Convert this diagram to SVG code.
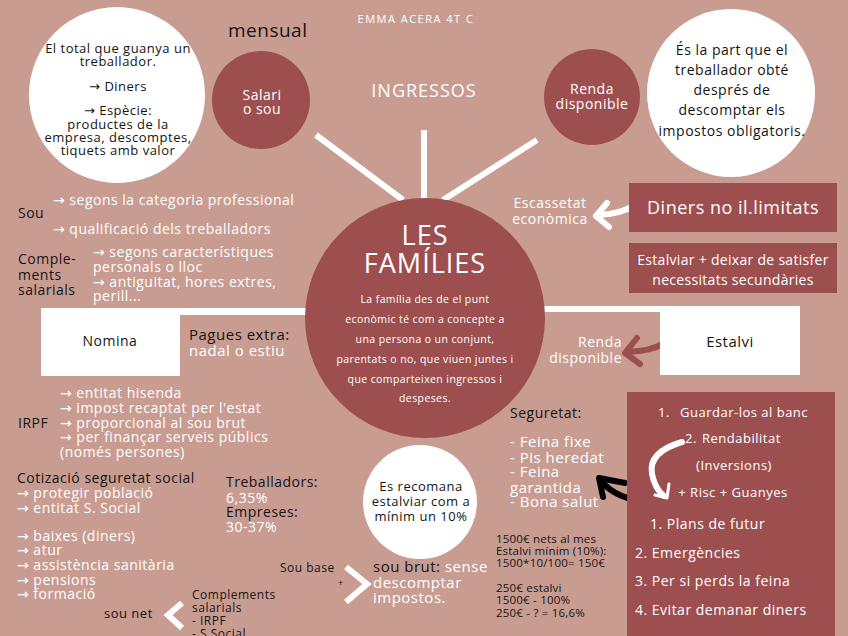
<svg xmlns="http://www.w3.org/2000/svg" width="848" height="636" viewBox="0 0 848 636">
<defs>
<style>
text{font-family:'Open Sans','DejaVu Sans',sans-serif;font-weight:500;letter-spacing:0.5px}
.k{fill:#141414}
.w{fill:#ffffff}
.c{text-anchor:middle}
.e{text-anchor:end}
.dk{fill:#9d4f50}
.wl{stroke:#fff;stroke-width:6;fill:none}
.f13{font-size:13px}
.f14{font-size:14px}
.f12{font-size:12px}
.f15{font-size:15px}
</style>
</defs>
<rect width="848" height="636" fill="#c99c91"/>

<g id="connectors">
<line class="wl" x1="316" y1="135" x2="403" y2="200"/>
<line class="wl" x1="424" y1="130" x2="424" y2="200"/>
<line class="wl" x1="537" y1="140" x2="443" y2="200"/>
<rect x="41" y="308" width="275" height="7" fill="#fff"/>
<rect x="535" y="306" width="265" height="6" fill="#fff"/>
<path d="M646,186 Q642,212 600,215" stroke="#fff" stroke-width="6" fill="none" stroke-linecap="round"/>
<path d="M607,203 L596,216 L609,227" stroke="#fff" stroke-width="6" fill="none" stroke-linecap="round" stroke-linejoin="round"/>
<path d="M678,322 Q674,350 628,352" stroke="#9d4f50" stroke-width="6" fill="none" stroke-linecap="round"/>
<path d="M637,338 L625,353 L640,364" stroke="#9d4f50" stroke-width="6" fill="none" stroke-linecap="round" stroke-linejoin="round"/>
<path d="M655,500 Q620,503 601,481" stroke="#000" stroke-width="6" fill="none" stroke-linecap="round"/>
<path d="M625,483 L599,478 L603,497" stroke="#000" stroke-width="6" fill="none" stroke-linecap="round" stroke-linejoin="round"/>
<path d="M346,567 L367,584 L346,602" class="wl"/>
<path d="M182,603 L168,615 L182,628" class="wl"/>
</g>

<g id="salari-def">
<circle cx="117" cy="95" r="88" fill="#fff"/>
<text class="k c f13"><tspan x="118" y="53">El total que guanya un</tspan><tspan x="118" y="66">treballador.</tspan><tspan x="118" y="91">→ Diners</tspan><tspan x="118" y="115">→ Espècie:</tspan><tspan x="118" y="129">productes de la</tspan><tspan x="118" y="142">empresa, descomptes,</tspan><tspan x="118" y="155">tiquets amb valor</tspan></text>
</g>

<g id="salari">
<circle cx="261" cy="100" r="49" class="dk"/>
<text class="w c f14"><tspan x="262" y="100">Salari</tspan><tspan x="262" y="114">o sou</tspan></text>
</g>
<text class="k" x="228" y="37" font-size="19">mensual</text>
<text class="w c" x="416" y="23" font-size="11" style="letter-spacing:1.5px">EMMA ACERA 4T C</text>
<text class="w c" x="424" y="97" font-size="18" style="letter-spacing:1px">INGRESSOS</text>

<g id="renda">
<circle cx="592" cy="97" r="48" class="dk"/>
<text class="w c f14"><tspan x="592" y="94">Renda</tspan><tspan x="592" y="109">disponible</tspan></text>
</g>

<g id="renda-def">
<circle cx="731" cy="93" r="84" fill="#fff"/>
<text class="k c f14"><tspan x="732" y="55">És la part que el</tspan><tspan x="732" y="75">treballador obté</tspan><tspan x="732" y="95">després de</tspan><tspan x="732" y="115">descomptar els</tspan><tspan x="732" y="136">impostos obligatoris.</tspan></text>
</g>

<g id="families">
<circle cx="425" cy="318" r="120" class="dk"/>
<text class="w c" font-size="27" style="letter-spacing:1px"><tspan x="425" y="245">LES</tspan><tspan x="425" y="273">FAMÍLIES</tspan></text>
<text class="w c" font-size="10.5" style="letter-spacing:0.4px"><tspan x="425" y="303">La família des de el punt</tspan><tspan x="425" y="323">econòmic té com a concepte a</tspan><tspan x="425" y="343">una persona o un conjunt,</tspan><tspan x="425" y="363">parentats o no, que viuen juntes i</tspan><tspan x="425" y="383">que comparteixen ingressos i</tspan><tspan x="425" y="402">despeses.</tspan></text>
</g>

<g id="sou">
<text class="k f14" x="18" y="218">Sou</text>
<text class="w f14"><tspan x="53" y="205">→ segons la categoria professional</tspan><tspan x="53" y="234">→ qualificació dels treballadors</tspan></text>
<text class="k f14"><tspan x="18" y="264">Comple-</tspan><tspan x="18" y="280">ments</tspan><tspan x="18" y="295">salarials</tspan></text>
<text class="w f14"><tspan x="93" y="257">→ segons característiques</tspan><tspan x="93" y="272">personals o lloc</tspan><tspan x="93" y="287">→ antiguitat, hores extres,</tspan><tspan x="93" y="301">perill...</tspan></text>
</g>

<g id="nomina">
<rect x="41" y="308" width="139" height="68" fill="#fff"/>
<text class="k c f14" x="110" y="346">Nomina</text>
<text class="k f15" x="189" y="340" font-weight="600">Pagues extra:</text>
<text class="w f15" x="189" y="356">nadal o estiu</text>
</g>

<g id="irpf">
<text class="k f14" x="18" y="428">IRPF</text>
<text class="w f14"><tspan x="60" y="398">→ entitat hisenda</tspan><tspan x="60" y="413">→ impost recaptat per l'estat</tspan><tspan x="60" y="428">→ proporcional al sou brut</tspan><tspan x="60" y="442">→ per finançar serveis públics</tspan><tspan x="60" y="457">(només persones)</tspan></text>
</g>

<g id="cotitzacio">
<text class="k f14" x="17" y="483">Cotizació seguretat social</text>
<text class="w f14"><tspan x="17" y="498">→ protegir població</tspan><tspan x="17" y="513">→ entitat S. Social</tspan><tspan x="17" y="541">→ baixes (diners)</tspan><tspan x="17" y="555">→ atur</tspan><tspan x="17" y="570">→ assistència sanitària</tspan><tspan x="17" y="585">→ pensions</tspan><tspan x="17" y="599">→ formació</tspan></text>
<text class="k f14" x="226" y="487">Treballadors:</text>
<text class="w f14" x="226" y="503">6,35%</text>
<text class="k f14" x="226" y="517">Empreses:</text>
<text class="w f14" x="226" y="532">30-37%</text>
</g>

<g id="estalvi-10">
<circle cx="420" cy="502" r="57" fill="#fff"/>
<text class="k c f13"><tspan x="421" y="491">Es recomana</tspan><tspan x="421" y="506">estalviar com a</tspan><tspan x="421" y="521">mínim un 10%</tspan></text>
</g>

<g id="sou-brut">
<text class="k f12" x="280" y="572">Sou base</text>
<text class="k" x="338" y="586" font-size="9">+</text>
<text class="f15" x="373" y="572"><tspan class="k">sou brut: </tspan><tspan class="w">sense</tspan></text>
<text class="w f15"><tspan x="373" y="588">descomptar</tspan><tspan x="373" y="603">impostos.</tspan></text>
</g>

<g id="sou-net">
<text class="k f12"><tspan x="192" y="599">Complements</tspan><tspan x="192" y="612">salarials</tspan><tspan x="192" y="625">- IRPF</tspan><tspan x="192" y="638">- S.Social</tspan></text>
<text class="k f13" x="104" y="618">sou net</text>
</g>

<g id="calcul">
<text class="k" font-size="11.5" style="letter-spacing:0.2px"><tspan x="496" y="543">1500€ nets al mes</tspan><tspan x="496" y="555">Estalvi mínim (10%):</tspan><tspan x="496" y="567">1500*10/100= 150€</tspan><tspan x="496" y="592">250€ estalvi</tspan><tspan x="496" y="604">1500€ - 100%</tspan><tspan x="496" y="617">250€ - ? = 16,6%</tspan></text>
</g>

<g id="seguretat">
<text class="k f14" x="510" y="418" font-weight="bold">Seguretat:</text>
<text class="w f15"><tspan x="510" y="447">- Feina fixe</tspan><tspan x="510" y="463">- Pis heredat</tspan><tspan x="510" y="477">- Feina</tspan><tspan x="510" y="493">garantida</tspan><tspan x="510" y="507">- Bona salut</tspan></text>
</g>

<g id="escassetat">
<text class="w c f14"><tspan x="550" y="208">Escassetat</tspan><tspan x="550" y="224">econòmica</tspan></text>
</g>

<g id="diners">
<rect x="629" y="183" width="208" height="49" class="dk"/>
<text class="w c" x="733" y="214" font-size="18">Diners no il.limitats</text>
</g>

<g id="estalviar">
<rect x="629" y="243" width="208" height="50" class="dk"/>
<text class="w c f14" style="letter-spacing:0.3px"><tspan x="733" y="265">Estalviar + deixar de satisfer</tspan><tspan x="733" y="285">necessitats secundàries</tspan></text>
</g>

<g id="estalvi">
<rect x="660" y="306" width="140" height="69" fill="#fff"/>
<text class="k c f15" x="730" y="347">Estalvi</text>
<text class="w e f14"><tspan x="622" y="347">Renda</tspan><tspan x="622" y="363">disponible</tspan></text>
</g>

<g id="usos">
<rect x="627" y="392" width="208" height="244" class="dk"/>
<path d="M682,442 Q648,452 652,474 Q655,489 664,496" stroke="#fff" stroke-width="6" fill="none" stroke-linecap="round"/>
<path d="M669,484 L667,498 L655,495" stroke="#fff" stroke-width="3" fill="none" stroke-linecap="round" stroke-linejoin="round"/>
<text class="w f13"><tspan x="658" y="417">1.</tspan><tspan x="680" y="417">Guardar-los al banc</tspan><tspan x="685" y="443">2.</tspan><tspan x="702" y="443">Rendabilitat</tspan></text>
<text class="w c f13"><tspan x="734" y="470">(Inversions)</tspan><tspan x="733" y="497">+ Risc + Guanyes</tspan></text>
<text class="w f14"><tspan x="650" y="529">1.  Plans de futur</tspan><tspan x="635" y="558">2.  Emergències</tspan><tspan x="635" y="586">3.  Per si perds la feina</tspan><tspan x="635" y="615">4.  Evitar demanar diners</tspan></text>
</g>
</svg>
